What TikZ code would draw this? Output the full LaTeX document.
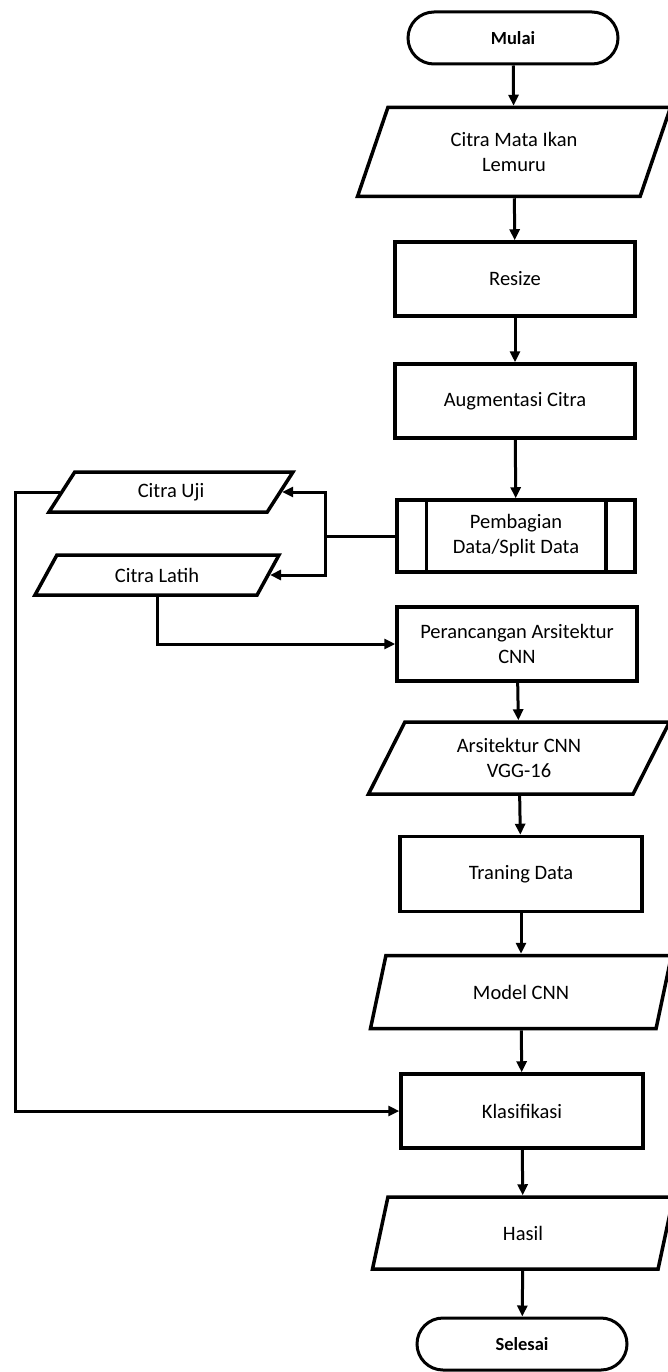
\documentclass[tikz,border=0pt]{standalone}
\usepackage{fontspec}
\setmainfont{Carlito}
\usetikzlibrary{shapes.geometric,arrows.meta}

\begin{document}
\begin{tikzpicture}
[x=1pt, y=-1pt, >={Triangle[length=11pt,width=10pt]},
 every node/.style={font=\fontsize{20.5}{25}\selectfont, align=center, inner sep=2pt},
 terminalnode/.style={rectangle, rounded corners=26pt, draw=black, line width=3pt, minimum width=210pt, minimum height=52pt, font=\bfseries\fontsize{18.5}{22}\selectfont},
 processnode/.style={rectangle, draw=black, line width=3.5pt, minimum width=240pt, minimum height=74pt},
 ionode/.style={trapezium, trapezium left angle=50, trapezium right angle=130, trapezium stretches body, draw=black, line width=3.5pt, minimum width=301pt, minimum height=72pt},
 smallionode/.style={ionode, trapezium left angle=40, trapezium right angle=140, minimum width=244pt, minimum height=40pt},
 splitnode/.style={processnode, minimum width=238pt, minimum height=72pt},
 flow/.style={->, line width=3pt}]
\useasboundingbox (0,0) rectangle (667,1372);
\node[terminalnode]	(mulai)	at (513,38)	{Mulai};
\node[ionode, trapezium left angle=55, trapezium right angle=125, minimum width=313pt, minimum height=89pt]	(citra)	at (514,152)	{Citra Mata Ikan\\Lemuru};
\node[processnode]	(resize)	at (515,279)	{Resize};
\node[processnode]	(augmentasi)	at (515,401)	{Augmentasi Citra};
\node[splitnode]	(pembagian)	at (516,536)	{Pembagian\\Data/Split Data};
\node[smallionode]	(uji)	at (171,492)	{Citra Uji};
\node[smallionode]	(latih)	at (157,575)	{Citra Latih};
\node[processnode]	(perancangan)	at (517,644)	{Perancangan Arsitektur\\CNN};
\node[ionode]	(vgg)	at (519,758)	{Arsitektur CNN\\VGG-16};
\node[processnode, minimum width=242pt, minimum height=75pt]	(training)	at (521,874)	{Traning Data};
\node[ionode, minimum height=73pt]	(model)	at (521,992)	{Model CNN};
\node[processnode, minimum width=242pt]	(klasifikasi)	at (522,1111)	{Klasifikasi};
\node[ionode]	(hasil)	at (523,1233)	{Hasil};
\node[terminalnode]	(selesai)	at (522,1344)	{Selesai};
\coordinate (fork) at (325,536);
\coordinate (rail) at (15,1111);
\draw[line width=3.5pt] ([xshift=31pt]pembagian.north west) -- ([xshift=31pt]pembagian.south west);
\draw[line width=3.5pt] ([xshift=-31pt]pembagian.north east) -- ([xshift=-31pt]pembagian.south east);
\draw[flow] (mulai) -- (citra);
\draw[flow] (citra) -- (resize);
\draw[flow] (resize) -- (augmentasi);
\draw[flow] (augmentasi) -- (pembagian);
\draw[line width=3pt] (pembagian.west) -- (fork);
\draw[flow] (fork) |- (uji.east);
\draw[flow] (fork) |- (latih.east);
\draw[flow] (latih.south) |- (perancangan.west);
\draw[flow] (perancangan) -- (vgg);
\draw[flow] (vgg) -- (training);
\draw[flow] (training) -- (model);
\draw[flow] (model) -- (klasifikasi);
\draw[flow] (uji.west) -| (rail) -- (klasifikasi.west);
\draw[flow] (klasifikasi) -- (hasil);
\draw[flow] (hasil) -- (selesai);
\end{tikzpicture}
\end{document}
